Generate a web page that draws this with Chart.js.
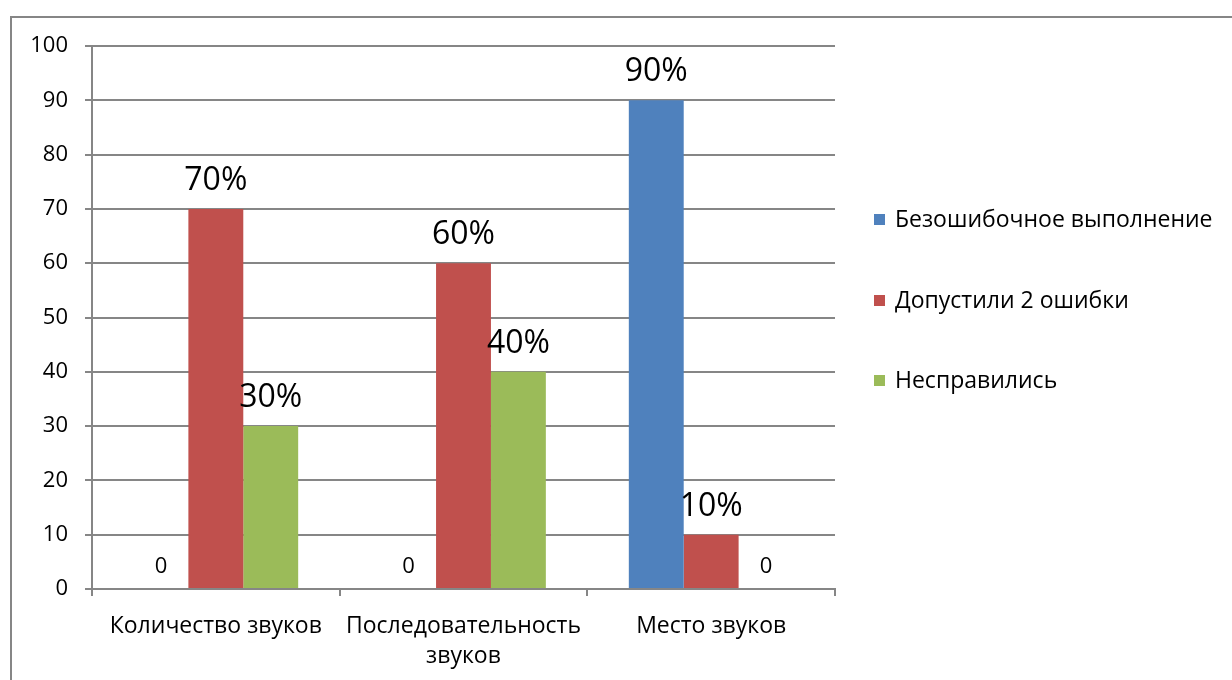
<!DOCTYPE html>
<html>
<head>
<meta charset="utf-8">
<script src="https://cdn.jsdelivr.net/npm/chart.js@4"></script>
<style>
  html, body { margin: 0; padding: 0; background: #fff; }
  #wrap { width: 1232px; height: 680px; }
</style>
</head>
<body>
<div id="wrap"><canvas id="myChart" width="1232" height="680"></canvas></div>
<script>
//Chart Data
var categories = [["Количество звуков"], ["Последовательность", "звуков"], ["Место звуков"]];
var seriesNames = ["Безошибочное выполнение", "Допустили 2 ошибки", "Несправились"];
var errorless = [0, 0, 90];
var twoErrors = [70, 60, 10];
var failed = [30, 40, 0];
var yTicks = [0, 10, 20, 30, 40, 50, 60, 70, 80, 90, 100];
var colors = ["#4F81BD", "#C0504D", "#9BBB59"];

var fontName = "'Open Sans', sans-serif";
var lineColor = "#868686";

//Value labels above bars
var valueLabels = {
	id: 'valueLabels',
	afterDatasetsDraw: function (chart) {
		var ctx = chart.ctx;
		ctx.save();
		ctx.fillStyle = "#000";
		ctx.textAlign = "center";
		ctx.textBaseline = "alphabetic";
		chart.data.datasets.forEach(function (ds, i) {
			var meta = chart.getDatasetMeta(i);
			meta.data.forEach(function (bar, j) {
				var v = ds.data[j];
				if (v == 0) {
					ctx.font = "22px " + fontName;
					ctx.fillText("0", bar.x, bar.base - 16);
				} else {
					ctx.font = "32px " + fontName;
					ctx.fillText(v + "%", bar.x, bar.y - 19);
				}
			});
		});
		ctx.restore();
	}
};

//Legend on the right and outer frame
var sideLegend = {
	id: 'sideLegend',
	afterDraw: function (chart) {
		var ctx = chart.ctx;
		ctx.save();
		var rows = [219, 300, 380];
		ctx.font = "23px " + fontName;
		ctx.textBaseline = "middle";
		ctx.textAlign = "left";
		chart.data.datasets.forEach(function (ds, i) {
			ctx.fillStyle = ds.backgroundColor;
			ctx.fillRect(874, rows[i] - 5, 11, 11);
			ctx.fillStyle = "#000";
			ctx.fillText(ds.label, 895, rows[i] + 1);
		});
		ctx.strokeStyle = lineColor;
		ctx.lineWidth = 2;
		ctx.strokeRect(11, 17, 1240, 700);
		ctx.restore();
	}
};

var ctx = document.getElementById('myChart').getContext("2d");
var myChart = new Chart(ctx, {
	type: 'bar',
	data: {
		labels: categories,
		datasets: [{
				label: seriesNames[0],
				data: errorless,
				backgroundColor: colors[0]
			},
			{
				label: seriesNames[1],
				data: twoErrors,
				backgroundColor: colors[1]
			},
			{
				label: seriesNames[2],
				data: failed,
				backgroundColor: colors[2]
			}]
	},
	options: {
		responsive: false,
		animation: false,
		layout: { padding: { left: 20, top: 46, right: 397, bottom: 0 } },
		datasets: { bar: { categoryPercentage: 0.665, barPercentage: 1.0 } },
		plugins: {
			legend: { display: false },
			tooltip: { enabled: false }
		},
		scales: {
			x: {
				afterFit: function (scale) { scale.height = 91; },
				grid: { offset: true, drawOnChartArea: false, color: lineColor, tickLength: 7, lineWidth: 2 },
				border: { color: lineColor, width: 2 },
				ticks: { color: "#000", font: { family: fontName, size: 23, lineHeight: 1.3 }, padding: 16, maxRotation: 0, autoSkip: false }
			},
			y: {
				min: 0,
				max: 100,
				afterFit: function (scale) { scale.width = 72; },
				afterBuildTicks: function (scale) {
					scale.ticks = yTicks.map(function (v) { return { value: v }; });
				},
				grid: { color: lineColor, tickLength: 7, lineWidth: 2 },
				border: { color: lineColor, width: 2 },
				ticks: { color: "#000", font: { family: fontName, size: 22 }, padding: 17 }
			}
		}
	},
	plugins: [valueLabels, sideLegend]
});
</script>
</body>
</html>
